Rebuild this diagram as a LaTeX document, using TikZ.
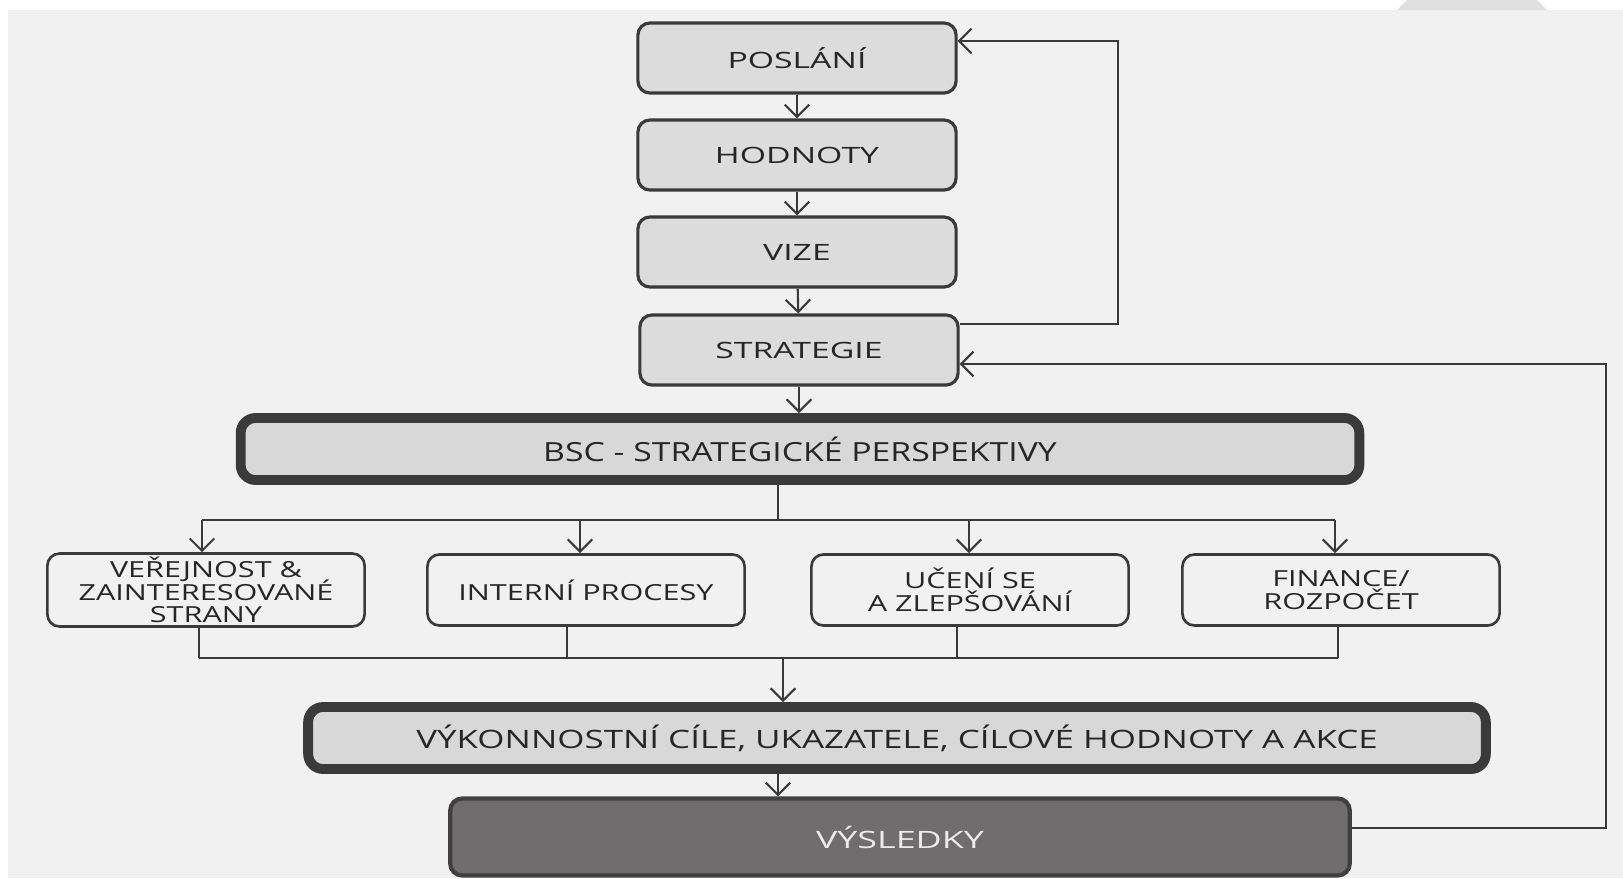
\documentclass[tikz,border=0pt]{standalone}
\usepackage{fontspec}
\setmainfont{Open Sans}
\newfontfamily\topfont[FakeStretch=1.5]{Open Sans}
\newfontfamily\midfont[FakeStretch=1.38]{Open Sans}
\newfontfamily\barfont[FakeStretch=1.28]{Open Sans}
\usetikzlibrary{arrows.meta,positioning,calc}

\newcommand{\tightlines}{\lineskiplimit=-10pt\relax}

\definecolor{paper}{HTML}{F1F1F1}
\definecolor{boxgray}{HTML}{DCDCDC}
\definecolor{bargray}{HTML}{D8D8D8}
\definecolor{edge}{HTML}{3A3A3A}
\definecolor{ink}{HTML}{262626}
\definecolor{darkbox}{HTML}{6F6D6D}

\tikzset{
  topbox/.style={draw=edge, line width=0.9pt, fill=boxgray, rounded corners=0.12cm,
    minimum width=3.18cm, minimum height=0.70cm, text=ink,
    font=\topfont\fontsize{6.4}{7}\selectfont},
  perspbox/.style={draw=edge, line width=0.75pt, fill=paper, rounded corners=0.12cm,
    minimum width=3.17cm, minimum height=0.71cm, text=ink, align=center, inner sep=1pt,
    font=\midfont\fontsize{6.3}{6.4}\selectfont\tightlines},
  barbox/.style={draw=edge, line width=2.8pt, fill=bargray, rounded corners=0.15cm,
    minimum height=0.62cm, text=ink},
  link/.style={draw=edge, line width=0.6pt},
}

\begin{document}
\begin{tikzpicture}[x=0.01cm, y=-0.01cm, >={Straight Barb[length=3.5pt,width=7pt]}]
    \useasboundingbox (0,0) rectangle (1623,878);
    \fill[white] (0,0) rectangle (1623,878);
    \fill[paper] (8,10) rectangle (1623,878);
    \fill[black!12] (1407,0) -- (1537,0) -- (1547,10) -- (1397,10) -- cycle;

    % top chain
    \node[topbox] (poslani)   at (797,58)  {POSLÁNÍ};
    \node[topbox] (hodnoty)   at (797,155) {HODNOTY};
    \node[topbox] (vize)      at (797,252) {VIZE};
    \node[topbox] (strategie) at (799,350) {STRATEGIE};

    \node[barbox, minimum width=11.18cm, font=\barfont\fontsize{7.5}{8}\selectfont]
      (bsc) at (800,449) {BSC - STRATEGICKÉ PERSPEKTIVY};

    % perspectives
    \node[perspbox] (verejnost) at (206,590) {VEŘEJNOST \&\\ZAINTERESOVANÉ\\STRANY};
    \node[perspbox] (procesy)   at (586,590) {INTERNÍ PROCESY};
    \node[perspbox] (uceni)     at (970,590) {UČENÍ SE\\A ZLEPŠOVÁNÍ};
    \node[perspbox] (finance)   at (1341,590) {FINANCE/\\ROZPOČET};

    \node[barbox, minimum width=11.77cm, font=\midfont\fontsize{7.2}{8}\selectfont]
      (vykon) at (897,738) {VÝKONNOSTNÍ CÍLE, UKAZATELE, CÍLOVÉ HODNOTY A AKCE};
    \node[draw=black!75, line width=1.2pt, fill=darkbox, rounded corners=0.12cm,
      minimum width=8.99cm, minimum height=0.77cm, text=black!8,
      font=\topfont\fontsize{6.8}{7}\selectfont]
      (vysledky) at (900,837) {VÝSLEDKY};

    % arrows down the chain
    \draw[link,->] (poslani) -- (hodnoty);
    \draw[link,->] (hodnoty) -- (vize);
    \draw[link,->] (vize) -- (strategie);
    \draw[link,->] (strategie) -- (strategie |- bsc.north);

    % fan out to the perspectives
    \coordinate (busT) at (778,520);
    \draw[link] (bsc.south -| busT) -- (busT);
    \draw[link] (202,520) -- (1335,520);
    \foreach \n/\x in {verejnost/202, procesy/580, uceni/969, finance/1335} {
      \coordinate (in-\n) at (\x,520);
      \draw[link,->] (in-\n) -- (in-\n |- \n.north);
    }

    % collect again
    \coordinate (busB) at (783,658);
    \foreach \n/\x in {verejnost/199, procesy/567, uceni/957, finance/1338} {
      \coordinate (out-\n) at (\x,658);
      \draw[link] (out-\n |- \n.south) -- (out-\n);
    }
    \draw[link] (out-verejnost) -- (out-finance);
    \draw[link,->] (busB) -- (busB |- vykon.north);
    \draw[link,->] (vykon.south -| busT) -- (vysledky.north -| busT);

    % feedback loops
    \coordinate (loopA) at (1118,324);
    \coordinate (loopB) at (1118,41);
    \draw[link,->] (strategie.east |- loopA) -- (loopA) -- (loopB) -- (poslani.east |- loopB);

    \coordinate (loopC) at (1606,828);
    \coordinate (loopD) at (1606,364);
    \draw[link,->] (vysledky.east |- loopC) -- (loopC) -- (loopD) -- (strategie.east |- loopD);
\end{tikzpicture}
\end{document}
